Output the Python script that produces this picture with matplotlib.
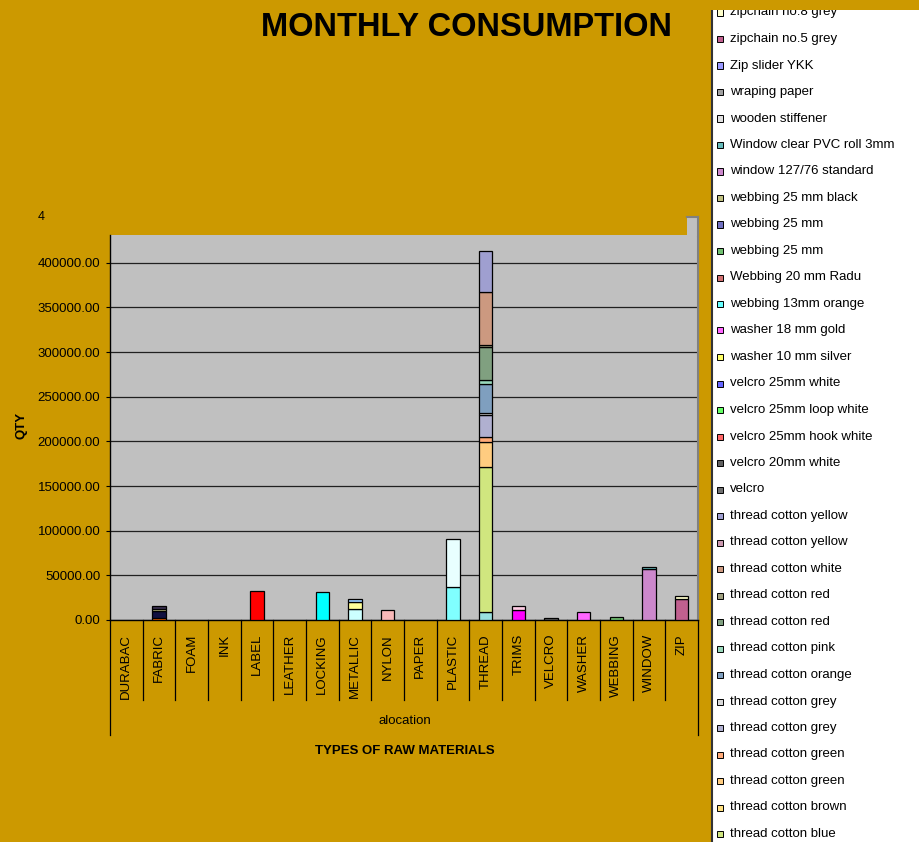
import matplotlib
matplotlib.use("Agg")
import matplotlib.pyplot as plt
from matplotlib.patches import Rectangle
from matplotlib.lines import Line2D
from matplotlib.ticker import FormatStrFormatter

plt.rcParams['font.family'] = ['Liberation Sans', 'DejaVu Sans']

W, H = 920, 842
GOLD = '#CC9900'
PLOT_BG = '#C0C0C0'

categories = ['DURABAC', 'FABRIC', 'FOAM', 'INK', 'LABEL', 'LEATHER', 'LOCKING',
              'METALLIC', 'NYLON', 'PAPER', 'PLASTIC', 'THREAD', 'TRIMS', 'VELCRO',
              'WASHER', 'WEBBING', 'WINDOW', 'ZIP']

# series shown in the legend, top to bottom as listed there
legend_names = ['zipchain no.8 grey', 'zipchain no.5 grey', 'Zip slider YKK',
                'wraping paper', 'wooden stiffener', 'Window clear PVC roll 3mm',
                'window 127/76 standard', 'webbing 25 mm black', 'webbing 25 mm',
                'webbing 25 mm', 'Webbing 20 mm Radu', 'webbing 13mm orange',
                'washer 18 mm gold', 'washer 10 mm silver', 'velcro 25mm white',
                'velcro 25mm loop white', 'velcro 25mm hook white', 'velcro 20mm white',
                'velcro', 'thread cotton yellow', 'thread cotton yellow',
                'thread cotton white', 'thread cotton red', 'thread cotton red',
                'thread cotton pink', 'thread cotton orange', 'thread cotton grey',
                'thread cotton grey', 'thread cotton green', 'thread cotton green',
                'thread cotton brown', 'thread cotton blue']
legend_cats = ['ZIP', 'ZIP', 'ZIP', 'PAPER', 'PAPER', 'WINDOW', 'WINDOW',
               'WEBBING', 'WEBBING', 'WEBBING', 'WEBBING', 'WEBBING',
               'WASHER', 'WASHER', 'VELCRO', 'VELCRO', 'VELCRO', 'VELCRO', 'VELCRO',
               'THREAD', 'THREAD', 'THREAD', 'THREAD', 'THREAD', 'THREAD', 'THREAD',
               'THREAD', 'THREAD', 'THREAD', 'THREAD', 'THREAD', 'THREAD']
legend_vals = [3700, 23200, 0, 0, 0, 2800, 56900, 0, 0, 3500, 0, 0,
               9500, 0, 0, 0, 0, 1800, 0,
               46600, 0, 59300, 1500, 37300, 4500, 32100, 2600, 24300, 5600, 28000,
               0, 162300]
legend_colors = ['#FFFFCC', '#C0608F', '#9999FF', '#A0A0A0', '#E0E0E0', '#66BBBB',
                 '#CC88CC', '#C0C080', '#7070C0', '#70C070', '#D07070', '#66FFFF',
                 '#FF66FF', '#FFFF66', '#6666FF', '#66FF66', '#FF6666', '#606060',
                 '#707070', '#9F9FD0', '#CC99B0', '#CC9980', '#A0A080', '#80A080',
                 '#99D8BB', '#7F9FBF', '#D8D8D8', '#B0B0D0', '#FFAA78', '#FFCC80',
                 '#FFE080', '#D0E67F']

# series whose legend entries are cut off below the picture (bottom to top)
other_cats = ['FABRIC', 'FABRIC', 'FABRIC', 'FABRIC', 'LABEL', 'LOCKING',
              'METALLIC', 'METALLIC', 'METALLIC', 'NYLON', 'PLASTIC', 'PLASTIC',
              'THREAD', 'TRIMS', 'TRIMS']
other_vals = [2300, 8200, 2200, 3300, 32800, 31300, 12300, 7500, 3700, 11200,
              37300, 53400, 9300, 11200, 5000]
other_colors = ['#FF6600', '#101040', '#CCCC88', '#3A3050', '#FF0000', '#00FFFF',
                '#CCFFFF', '#FFFF99', '#99CCFF', '#F8B8B8', '#80FFFF', '#E8FFFF',
                '#99E0E0', '#FF00FF', '#FFCCE5']

yticks = list(range(0, 400001, 50000))

fig = plt.figure(figsize=(W / 100, H / 100), dpi=100, facecolor=GOLD)
ax = fig.add_axes([110 / W, 1 - 620 / H, 588 / W, 385 / H])
ax.set_facecolor(PLOT_BG)

idx = {c: i for i, c in enumerate(categories)}
bottoms = [0.0] * len(categories)
bar_w = 0.41

# stack: cut-off series first, then legend series in reverse legend order
segments = list(zip(other_cats, other_vals, other_colors)) + \
    list(zip(legend_cats[::-1], legend_vals[::-1], legend_colors[::-1]))
for cat, val, col in segments:
    if val <= 0:
        continue
    i = idx[cat]
    ax.bar(i, val, bottom=bottoms[i], width=bar_w, color=col,
           edgecolor='black', linewidth=0.9, zorder=3)
    bottoms[i] += val

ax.set_xlim(-0.5, len(categories) - 0.5)
ax.set_ylim(0, 431000)
ax.set_yticks(yticks)
ax.yaxis.set_major_formatter(FormatStrFormatter('%.2f'))
ax.tick_params(axis='y', length=3, width=0.8, pad=4, labelsize=9.5, direction='out')
ax.yaxis.grid(True, color='#202020', linewidth=0.9)
ax.set_axisbelow(True)

ax.set_xticks(range(len(categories)))
ax.set_xticklabels(categories, rotation=90, va='top', fontsize=9.5)
ax.tick_params(axis='x', length=0, pad=10)

for s in ['top']:
    ax.spines[s].set_visible(False)
ax.spines['right'].set_color('#808080')
ax.spines['right'].set_linewidth(1.5)
ax.spines['left'].set_linewidth(1.0)
ax.spines['bottom'].set_linewidth(1.0)

# category separators under the axis
for k in range(len(categories) + 1):
    b = k - 0.5
    low = -115 / 385 if k in (0, len(categories)) else -80 / 385
    ax.axvline(b, ymin=low, ymax=0, color='black', linewidth=0.9, clip_on=False)

# small plot-area notch at top right
fig.patches.append(Rectangle((687 / W, 1 - 236 / H), 11 / W, 19 / H,
                             transform=fig.transFigure, facecolor=PLOT_BG,
                             edgecolor='none', zorder=1))
fig.lines.append(Line2D([687 / W, 698 / W], [1 - 217 / H, 1 - 217 / H],
                        transform=fig.transFigure, color='#808080', linewidth=1.5))
fig.lines.append(Line2D([698 / W, 698 / W], [1 - 217 / H, 1 - 236 / H],
                        transform=fig.transFigure, color='#808080', linewidth=1.5))

fig.text(467 / W, 1 - 27 / H, 'MONTHLY CONSUMPTION', ha='center', va='center',
         fontsize=23.5, fontweight='bold')
fig.text(41 / W, 1 - 217 / H, '4', ha='center', va='center', fontsize=9)
fig.text(22 / W, 1 - 425 / H, 'QTY', ha='center', va='center', rotation=90,
         fontsize=9.5, fontweight='bold')
fig.text(405 / W, 1 - 721 / H, 'alocation', ha='center', va='center', fontsize=9.5)
fig.text(405 / W, 1 - 751 / H, 'TYPES OF RAW MATERIALS', ha='center', va='center',
         fontsize=9.5, fontweight='bold')

# legend box (cut off at the top and bottom like the original)
fig.patches.append(Rectangle((712 / W, 0), 208 / W, 1 - 10 / H,
                             transform=fig.transFigure, facecolor='white',
                             edgecolor='none', zorder=0.5))
fig.lines.append(Line2D([712 / W, 712 / W], [0, 1 - 10 / H],
                        transform=fig.transFigure, color='#333333', linewidth=1.5))
for i, (name, col) in enumerate(zip(legend_names, legend_colors)):
    yc = 12.5 + 26.5 * i
    fig.patches.append(Rectangle((717 / W, 1 - (yc + 3) / H), 6 / W, 6 / H,
                                 transform=fig.transFigure, facecolor=col,
                                 edgecolor='black', linewidth=0.7, zorder=2))
    fig.text(730 / W, 1 - yc / H, name, ha='left', va='center', fontsize=9.5,
             zorder=3)
# gold strip hiding the top of the first legend entry
fig.patches.append(Rectangle((705 / W, 1 - 10 / H), 215 / W, 10 / H,
                             transform=fig.transFigure, facecolor=GOLD,
                             edgecolor='none', zorder=5))

fig.savefig('out.png', dpi=100, facecolor=GOLD)
